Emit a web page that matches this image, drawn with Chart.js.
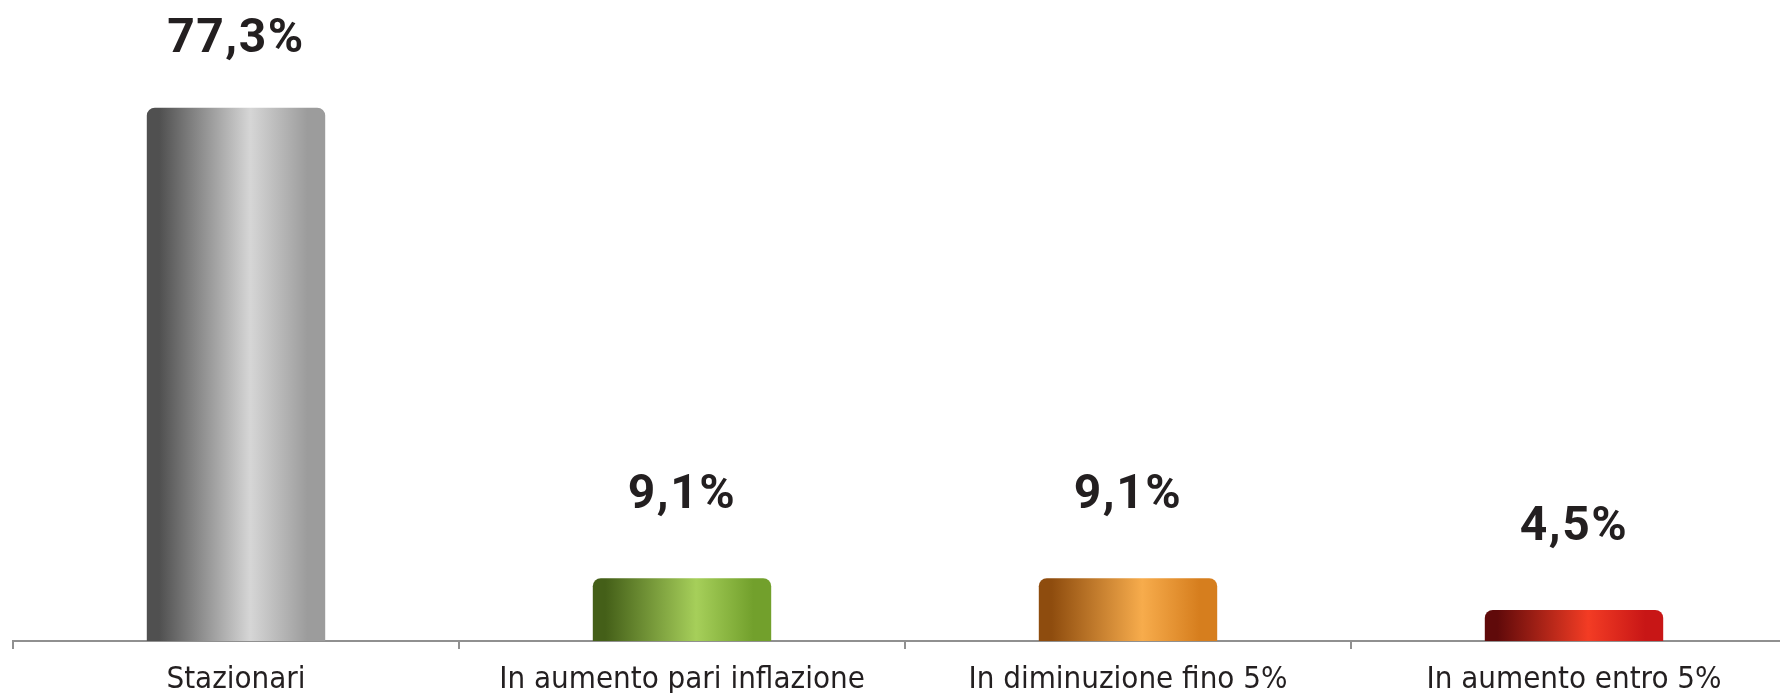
<!DOCTYPE html>
<html>
<head>
<meta charset="utf-8">
<script src="https://cdn.jsdelivr.net/npm/chart.js@4/dist/chart.umd.min.js"></script>
<style>
  html, body { margin: 0; padding: 0; background: #fff; overflow: hidden; }
  #wrap { width: 1800px; height: 693px; position: relative; }
</style>
</head>
<body>
<div id="wrap"><canvas id="grafico"></canvas></div>
<script>
const categorie = ['Stazionari', 'In aumento pari inflazione', 'In diminuzione fino 5%', 'In aumento entro 5%'];
const valori = [77.3, 9.1, 9.1, 4.5];
const etichette = ['77,3%', '9,1%', '9,1%', '4,5%'];
// colori cilindro: bordo scuro, centro chiaro, lato destro
const coloriBarre = [
  ['#505050', '#d6d6d6', '#9c9c9c'],
  ['#445f18', '#a6cf5a', '#72a02c'],
  ['#8e4c0e', '#f7ac4c', '#d67e1e'],
  ['#600a0a', '#f33c24', '#c81616']
];

const larghezzaBarra = 0.4;

function gradiente(c) {
  const chart = c.chart;
  const area = chart.chartArea;
  const col = coloriBarre[c.dataIndex] || coloriBarre[0];
  if (!area || c.type !== 'data') return col[1];
  const x = chart.scales.x.getPixelForValue(c.dataIndex);
  const w = (area.right - area.left) / categorie.length * larghezzaBarra;
  const g = chart.ctx.createLinearGradient(x - w / 2, 0, x + w / 2, 0);
  g.addColorStop(0, col[0]);
  g.addColorStop(0.07, col[0]);
  g.addColorStop(0.58, col[1]);
  g.addColorStop(0.9, col[2]);
  g.addColorStop(1, col[2]);
  return g;
}

const etichetteValori = {
  id: 'etichetteValori',
  afterDatasetsDraw(chart) {
    const ctx = chart.ctx;
    const meta = chart.getDatasetMeta(0);
    ctx.save();
    ctx.font = 'bold 48px Roboto, "DejaVu Sans", sans-serif';
    ctx.fillStyle = '#231f20';
    ctx.textAlign = 'center';
    ctx.textBaseline = 'middle';
    if ('letterSpacing' in ctx) ctx.letterSpacing = '1.5px';
    meta.data.forEach((bar, i) => {
      const y = Math.max(40, bar.y - 82);
      ctx.fillText(etichette[i], bar.x, y);
    });
    ctx.restore();
  }
};

new Chart(document.getElementById('grafico'), {
  type: 'bar',
  data: {
    labels: categorie,
    datasets: [{
      data: valori,
      backgroundColor: gradiente,
      borderRadius: { topLeft: 8, topRight: 8, bottomLeft: 0, bottomRight: 0 },
      borderSkipped: 'bottom',
      barPercentage: larghezzaBarra,
      categoryPercentage: 1
    }]
  },
  options: {
    responsive: true,
    maintainAspectRatio: false,
    animation: false,
    layout: { padding: { left: 13, right: 3, top: 20, bottom: 0 } },
    plugins: {
      legend: { display: false },
      tooltip: { enabled: false }
    },
    scales: {
      y: {
        display: false,
        min: 0,
        max: 90
      },
      x: {
        grid: {
          offset: true,
          drawOnChartArea: false,
          drawTicks: true,
          tickLength: 8,
          color: '#909090',
          lineWidth: 2
        },
        border: { display: true, color: '#909090', width: 2 },
        ticks: {
          color: '#231f20',
          padding: 12,
          font: { family: '"Liberation Sans Narrow", "DejaVu Sans Condensed", "Open Sans", sans-serif', size: 31 }
        },
        afterFit(scale) { scale.height = 52; }
      }
    }
  },
  plugins: [etichetteValori]
});
</script>
</body>
</html>
